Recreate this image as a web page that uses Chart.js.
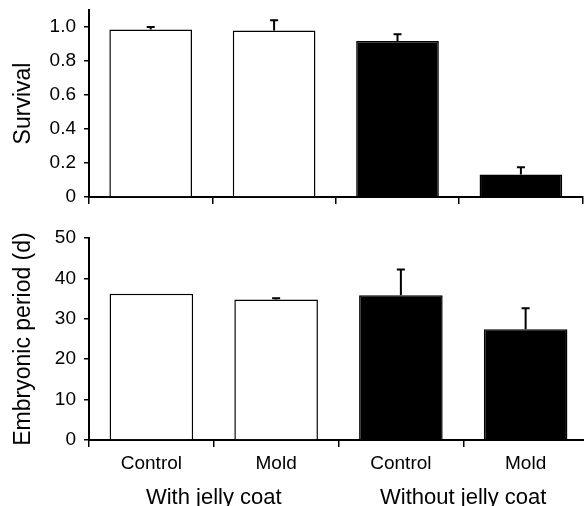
<!DOCTYPE html>
<html>
<head>
<meta charset="utf-8">
<script src="https://cdn.jsdelivr.net/npm/chart.js@4.4.1/dist/chart.umd.min.js"></script>
<style>
  html, body { margin: 0; padding: 0; background: #fff; overflow: hidden; width: 584px; height: 506px; }
  #wrapTop { position: absolute; left: 0; top: 0; width: 584px; height: 215px; }
  #wrapBottom { position: absolute; left: 0; top: 215px; width: 588px; height: 291px; }
</style>
</head>
<body>
<div id="wrapTop"><canvas id="survivalChart"></canvas></div>
<div id="wrapBottom"><canvas id="periodChart"></canvas></div>
<script>
// Datos
const categories = ["Control", "Mold", "Control", "Mold"];
const groups = ["With jelly coat", "Without jelly coat"];
const barColors = ["#ffffff", "#ffffff", "#000000", "#000000"];

const survival = [0.985, 0.98, 0.918, 0.132];
const survivalErr = [0.015, 0.06, 0.039, 0.043];
const survivalTicks = [0, 0.2, 0.4, 0.6, 0.8, 1.0];

const period = [36.2, 34.8, 35.8, 27.4];
const periodErr = [0, 0.3, 6.4, 5.2];
const periodTicks = [0, 10, 20, 30, 40, 50];

const FONT = "'Liberation Sans', Arial, Helvetica, sans-serif";
Chart.defaults.font.family = FONT;
Chart.defaults.color = "#000";
Chart.defaults.animation = false;

// Barras de error (solo hacia arriba)
const errorBarPlugin = {
  id: "errorBars",
  afterDatasetsDraw(chart, args, opts) {
    const ctx = chart.ctx;
    const meta = chart.getDatasetMeta(0);
    const yScale = chart.scales.y;
    const values = chart.data.datasets[0].data;
    ctx.save();
    ctx.strokeStyle = "#000";
    ctx.lineWidth = 2;
    meta.data.forEach((bar, i) => {
      const err = opts.errors[i];
      if (!err) return;
      const yTop = yScale.getPixelForValue(values[i] + err);
      const yBar = yScale.getPixelForValue(values[i]);
      ctx.beginPath();
      ctx.moveTo(bar.x, yBar);
      ctx.lineTo(bar.x, yTop);
      ctx.moveTo(bar.x - 4, yTop);
      ctx.lineTo(bar.x + 4, yTop);
      ctx.stroke();
    });
    ctx.restore();
  }
};

// Etiquetas de grupo bajo el eje x
const groupLabelPlugin = {
  id: "groupLabels",
  afterDraw(chart, args, opts) {
    if (!opts.show) return;
    const ctx = chart.ctx;
    const x = chart.scales.x;
    ctx.save();
    ctx.font = "22px " + FONT;
    ctx.fillStyle = "#000";
    ctx.textAlign = "center";
    ctx.textBaseline = "middle";
    groups.forEach((g, i) => {
      const cx = (x.getPixelForValue(i * 2) + x.getPixelForValue(i * 2 + 1)) / 2;
      ctx.fillText(g, cx, x.top + 58);
    });
    ctx.restore();
  }
};

function buildChart(id, values, errors, ticks, maxY, title, opts) {
  return new Chart(document.getElementById(id), {
    type: "bar",
    data: {
      labels: categories,
      datasets: [{
        data: values,
        backgroundColor: barColors,
        borderColor: "#000",
        borderWidth: 1.5,
        categoryPercentage: 1,
        barPercentage: 0.67
      }]
    },
    options: {
      responsive: true,
      maintainAspectRatio: false,
      layout: { padding: { top: opts.padTop, right: opts.padRight, left: 0, bottom: 0 } },
      plugins: {
        legend: { display: false },
        tooltip: { enabled: false },
        errorBars: { errors },
        groupLabels: { show: opts.showX }
      },
      scales: {
        x: {
          offset: true,
          grid: { offset: true, drawOnChartArea: false, drawTicks: true, tickLength: 7, color: "#000", lineWidth: 1.5 },
          border: { color: "#000", width: 2 },
          ticks: { display: opts.showX, font: { size: 19 }, padding: 5, maxRotation: 0 },
          afterFit(scale) {
            scale.height = opts.xHeight;
            scale.paddingLeft = 0;
            scale.paddingRight = 0;
          }
        },
        y: {
          min: 0,
          max: maxY,
          grid: { drawOnChartArea: false, drawTicks: true, tickLength: 5, color: "#000", lineWidth: 1.5 },
          border: { color: "#000", width: 2 },
          afterBuildTicks(scale) { scale.ticks = ticks.map(v => ({ value: v })); },
          ticks: {
            font: { size: 19 },
            padding: 8,
            callback: v => opts.fmt(v)
          },
          title: { display: true, text: title, font: { size: 23 }, padding: { top: 10, bottom: 0 } },
          afterFit(scale) {
            scale.width = 89;
            scale.paddingTop = 0;
            scale.paddingBottom = 0;
          }
        }
      }
    },
    plugins: [errorBarPlugin, groupLabelPlugin]
  });
}

buildChart("survivalChart", survival, survivalErr, survivalTicks, 1.1, "Survival", {
  padTop: 10, padRight: 1.4, xHeight: 18, showX: false,
  fmt: v => v === 0 ? "0" : v.toFixed(1)
});

buildChart("periodChart", period, periodErr, periodTicks, 50, "Embryonic period (d)", {
  padTop: 23, padRight: 0, xHeight: 66, showX: true,
  fmt: v => String(v)
});
</script>
</body>
</html>
